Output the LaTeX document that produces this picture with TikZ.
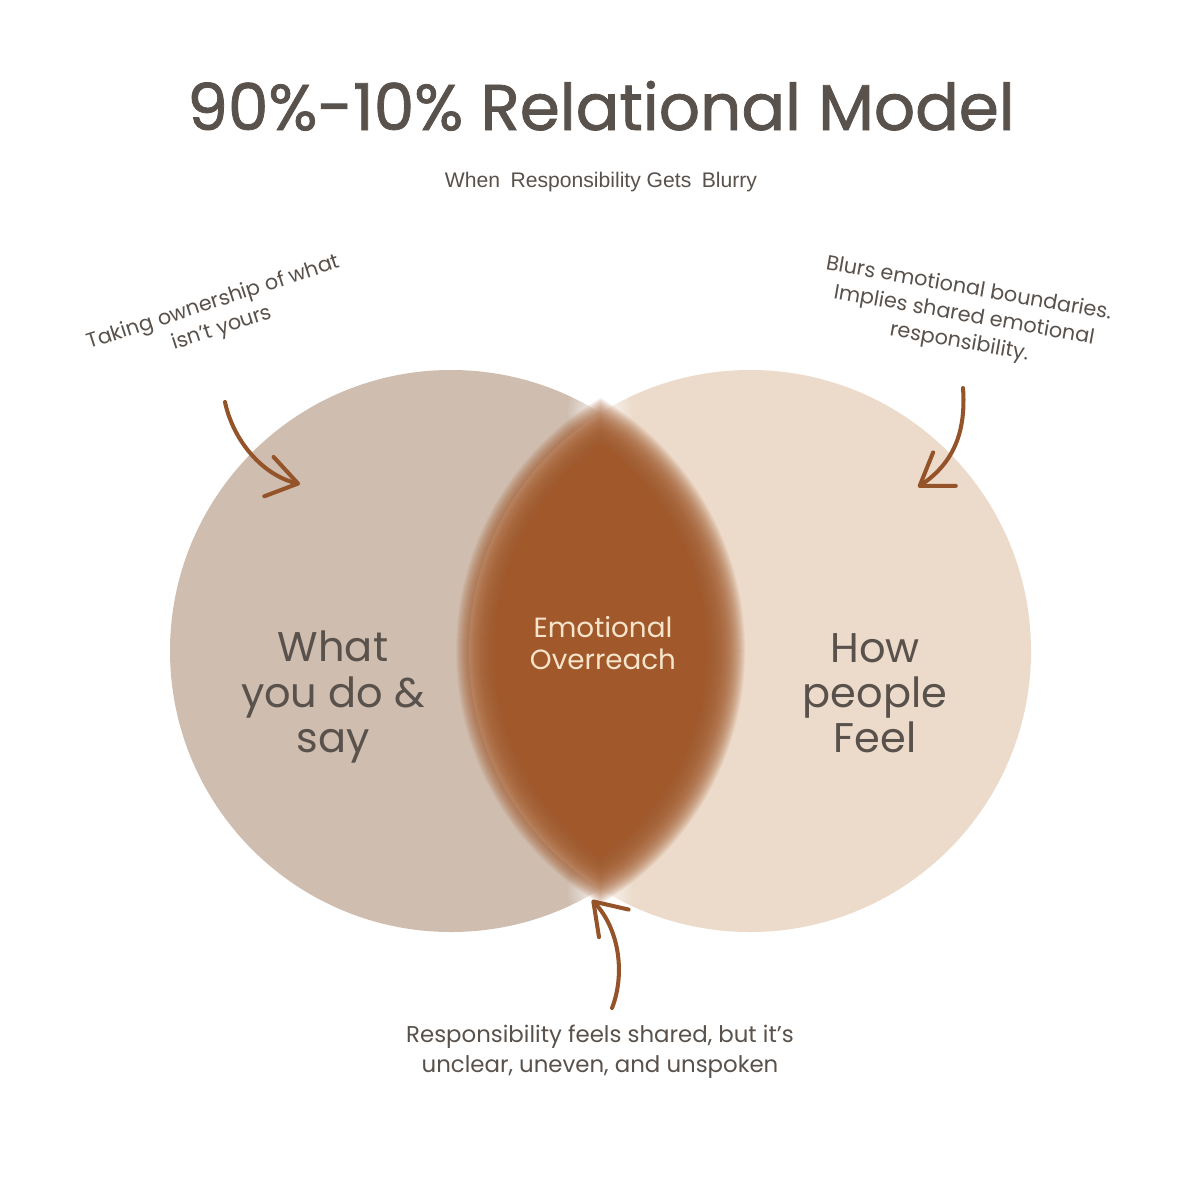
\documentclass[tikz,border=0pt]{standalone}
\usepackage{fontspec}
\setmainfont{Poppins}
\newfontfamily\titlefont{Poppins}[FakeBold=1.2]
\newfontfamily\subfont{Liberation Sans}
\usetikzlibrary{arrows.meta,fadings}
\definecolor{ink}{HTML}{59514B}
\definecolor{leftc}{HTML}{CFBDAF}
\definecolor{rightc}{HTML}{ECDBCA}
\definecolor{lensc}{HTML}{A1582A}
\definecolor{lenstext}{HTML}{F6E4CB}
\definecolor{arrowc}{HTML}{95532A}
\tikzfading[name=fuzzyfade, inner color=transparent!0, outer color=transparent!100]
\tikzset{
  annot/.style={text=ink, align=center, inner sep=0pt, font=\fontsize{5.9}{7.7}\selectfont},
  annotb/.style={text=ink, align=center, inner sep=0pt, font=\fontsize{6.5}{8.5}\selectfont},
  biglabel/.style={text=ink, align=center, inner sep=0pt, font=\fontsize{11.8}{12.8}\selectfont},
  lenslabel/.style={text=lenstext, align=center, inner sep=0pt, font=\fontsize{7.9}{9.1}\selectfont},
  arr/.style={draw=arrowc, line width=1.15pt, line cap=round,
    -{Straight Barb[length=8.5pt,width=11.5pt,round]}}
}
\begin{document}
\begin{tikzpicture}[x=0.01cm,y=-0.01cm]
\useasboundingbox (0,0) rectangle (1200,1200);
\fill[white] (0,0) rectangle (1200,1200);
% circles
\coordinate (cl) at (451,651);
\coordinate (cr) at (750,651);
\def\R{281}
\fill[leftc] (cl) circle[radius=\R];
\fill[rightc] (cr) circle[radius=\R];
% soft white glow where the circles meet
\coordinate (ttip) at (600,410);
\coordinate (btip) at (600,892);
\fill[white, path fading=fuzzyfade, fill opacity=0.9] (ttip) circle[radius=34];
\fill[white, path fading=fuzzyfade, fill opacity=0.9] (btip) circle[radius=34];
% blurred lens
\begin{scope}
  \clip (cl) circle[radius={\R-26}];
  \fill[lensc] (cr) circle[radius={\R-26}];
\end{scope}
\foreach \d in {-25,-24,...,13}{
  \begin{scope}
    \clip (cl) circle[radius={\R+(\d)}];
    \fill[lensc, fill opacity=0.07] (cr) circle[radius={\R+(\d)}];
  \end{scope}
}
% title
\node[text=ink, inner sep=0pt, anchor=base] (title) at (601,130)
  {\resizebox{8.27cm}{!}{\fontsize{19}{20}\selectfont\titlefont 90\%-10\% Relational Model}};
\node[text=ink, inner sep=0pt, anchor=base] (subtitle) at (601,187)
  {\resizebox{3.12cm}{!}{\subfont When\hspace{0.5em}Responsibility Gets\hspace{0.5em}Blurry}};
% labels
\node[biglabel] (what) at (333,697) {What\\you do \&\\say};
\node[biglabel] (how) at (875,693) {How\\people\\Feel};
\node[lenslabel] (lens) at (603,643) {Emotional\\Overreach};
% annotations
\node[annot, rotate=18] (tl) at (218,316) {Taking ownership of what\\isn’t yours};
\node[annot, rotate=-10] (tr) at (964,316) {Blurs emotional boundaries.\\Implies shared emotional\\responsibility.};
\node[annotb] (tb) at (600,1052) {Responsibility feels shared, but it’s\\unclear, uneven, and unspoken};
% arrows
\coordinate (a1s) at (225,402);
\coordinate (a1e) at (300,484);
\draw[arr] (a1s) .. controls (233,440) and (262,475) .. (a1e);
\coordinate (a2s) at (963,388);
\coordinate (a2e) at (918,487);
\draw[arr] (a2s) .. controls (966,430) and (955,462) .. (a2e);
\coordinate (a3s) at (612,1008);
\coordinate (a3e) at (592,900);
\draw[arr] (a3s) .. controls (625,975) and (620,930) .. (a3e);
\end{tikzpicture}
\end{document}
